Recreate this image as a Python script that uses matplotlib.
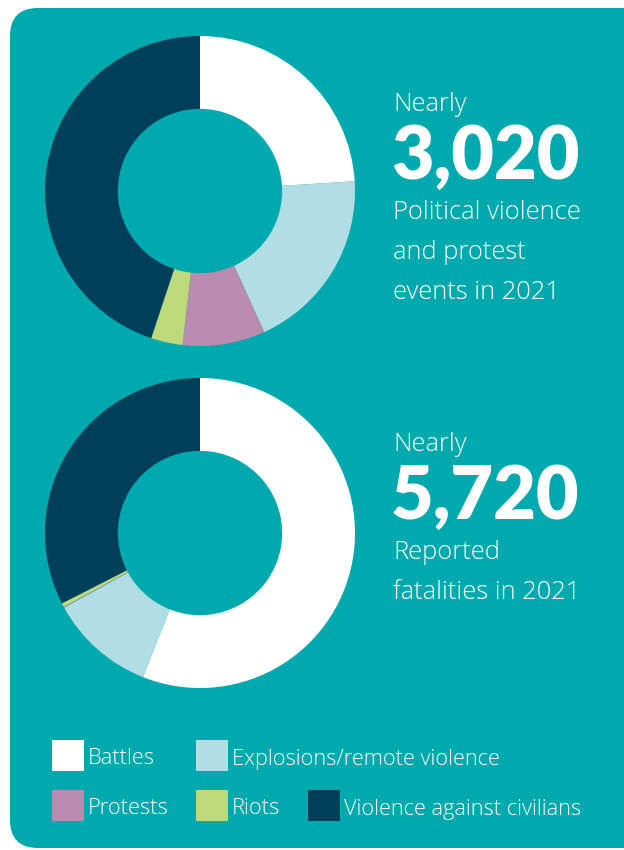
import matplotlib.pyplot as plt
from matplotlib.patches import FancyBboxPatch, Rectangle

# event types and shares (%) read from the two donuts
categories = ['Battles', 'Explosions/remote violence', 'Protests', 'Riots', 'Violence against civilians']
colors = ['#FFFFFF', '#B0DEE4', '#B98BAE', '#BDD97A', '#003F5A']
events_share = [24.0, 19.2, 8.6, 3.3, 44.9]
fatalities_share = [56.0, 11.0, 0.1, 0.4, 32.5]

events_total = '3,020'
fatalities_total = '5,720'

teal = '#00A9AD'
W, H = 624, 850

plt.rcParams['font.family'] = ['Open Sans', 'DejaVu Sans']

fig = plt.figure(figsize=(W / 100, H / 100), dpi=100)
bg = fig.add_axes([0, 0, 1, 1])
bg.set_xlim(0, W)
bg.set_ylim(H, 0)
bg.axis('off')

card = FancyBboxPatch((10, 8), 660, 840, boxstyle='round,pad=0,rounding_size=28',
                      facecolor=teal, edgecolor='none')
bg.add_patch(card)


def donut(cx, cy, r, values):
    ax = fig.add_axes([(cx - r) / W, (H - cy - r) / H, 2 * r / W, 2 * r / H])
    ax.pie(values, colors=colors, startangle=90, counterclock=False,
           wedgeprops=dict(width=0.47, linewidth=0))
    ax.set_xlim(-1, 1)
    ax.set_ylim(-1, 1)
    ax.set_aspect('equal')
    ax.axis('off')


donut(200, 191, 155, events_share)
donut(200, 533, 155, fatalities_share)


def block(y0, number, lines):
    bg.text(393, y0, 'Nearly', color='white', fontsize=18.4, fontweight='light', va='baseline')
    bg.text(391, y0 + 68, number, color='white', fontsize=53, fontweight='heavy',
            family=['Lato', 'DejaVu Sans'], va='baseline')
    for i, ln in enumerate(lines):
        bg.text(393, y0 + 108 + 40 * i, ln, color='white', fontsize=18.4,
                fontweight='light', va='baseline')


block(111, events_total, ['Political violence', 'and protest', 'events in 2021'])
block(451, fatalities_total, ['Reported', 'fatalities in 2021'])

# legend
legend_pos = [(52, 740), (196, 740), (52, 790), (196, 790), (308, 790)]
for (x, y), c, lab in zip(legend_pos, colors, categories):
    bg.add_patch(Rectangle((x, y), 32, 31, facecolor=c, edgecolor='none'))
    bg.text(x + 36, y + 19, lab, color='white', fontsize=15.7, fontweight='light',
            va='center')

fig.savefig('out.png', dpi=100)
